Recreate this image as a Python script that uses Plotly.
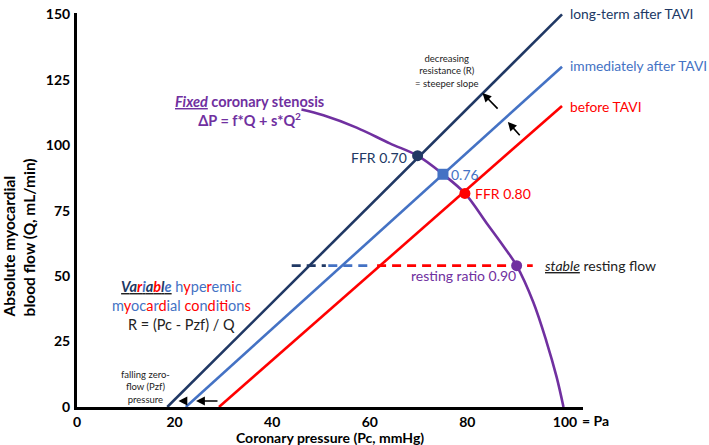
import plotly.graph_objects as go

# colours
NAVY = "#203864"
BLUE = "#4472C4"
RED = "#FF0000"
PURPLE = "#7030A0"
FONT = "Lato"

# pressure-flow lines (Pc, Q), from zero-flow pressure up to the right edge
longterm_pc = [18.5, 99.4]
longterm_q = [0, 150]
immediate_pc = [22.3, 99.4]
immediate_q = [0, 130]
before_pc = [29.1, 99.4]
before_q = [0, 115]

# fixed stenosis curve
stenosis_pc = [46.0, 50.5, 57.3, 64.1, 69.8, 75.0, 79.5, 84.0, 87.4, 90.1, 93.5, 96.2, 98.3, 99.7]
stenosis_q = [113.6, 111.4, 106.7, 100.7, 96.0, 88.9, 81.6, 70.1, 61.4, 54.0, 40.1, 25.1, 11.4, 0]

# FFR points
ffr_pc = [69.8, 75.0, 79.5]
ffr_q = [96.0, 88.9, 81.6]
ffr_labels = ["FFR 0.70", "0.76", "FFR 0.80"]

# resting point
rest_pc = 90.1
rest_q = 54.0
rest_segments = [([44.0, 51.0], NAVY), ([51.5, 60.0], BLUE), ([61.5, 93.4], RED)]

# arrows: (head_x, head_y, tail_x, tail_y)
slope_arrows = [(83.1, 119.9, 86.5, 113.4), (88.3, 108.9, 91.0, 103.2)]
pzf_arrows = [(20.8, 2.3, 22.6, 2.3), (24.4, 2.3, 29.1, 2.3)]

fig = go.Figure()

for xs, ys, c in [(longterm_pc, longterm_q, NAVY), (immediate_pc, immediate_q, BLUE),
                  (before_pc, before_q, RED)]:
    fig.add_trace(go.Scatter(x=xs, y=ys, mode="lines", line=dict(color=c, width=2.6),
                             cliponaxis=False))

for xs, c in rest_segments:
    fig.add_trace(go.Scatter(x=xs, y=[rest_q, rest_q], mode="lines",
                             line=dict(color=c, width=2.6, dash="9px,6px")))

fig.add_trace(go.Scatter(x=stenosis_pc, y=stenosis_q, mode="lines",
                         line=dict(color=PURPLE, width=2.6, shape="spline")))

fig.add_trace(go.Scatter(x=ffr_pc, y=ffr_q, mode="markers",
                         marker=dict(color=[NAVY, BLUE, RED], size=11,
                                     symbol=["circle", "square", "circle"])))
fig.add_trace(go.Scatter(x=[rest_pc], y=[rest_q], mode="markers",
                         marker=dict(color=PURPLE, size=11)))


def ann(text, x, y, color="black", size=14, xanchor="center", **kw):
    fig.add_annotation(text=text, x=x, y=y, xref="x", yref="y", showarrow=False,
                       font=dict(family=FONT, size=size, color=color),
                       xanchor=xanchor, yanchor="middle", **kw)


# line labels
ann("long-term after TAVI", 100.6, 150.2, NAVY, size=13.8, xanchor="left")
ann("immediately after TAVI", 100.6, 130.5, BLUE, size=13.8, xanchor="left")
ann("before TAVI", 100.6, 114.8, RED, size=13.8, xanchor="left")

# point labels
ann(ffr_labels[0], 68.0, 95.2, NAVY, xanchor="right")
ann(ffr_labels[1], 76.2, 88.9, BLUE, xanchor="left")
ann(ffr_labels[2], 81.2, 81.6, RED, xanchor="left")
ann("resting ratio 0.90", 79.2, 50.3, PURPLE)
ann("<u><i>stable</i></u> resting flow", 95.5, 54.2, "#222222", xanchor="left")

ann("decreasing<br>resistance (R)<br>= steeper slope", 75.8, 128.4, "#222222", size=9.5)
ann("falling zero-<br>flow (Pzf)<br>pressure", 14.1, 7.6, "#222222", size=9.5)

ann("<b><u><i>Fixed</i></u> coronary stenosis<br>ΔP = f*Q + s*Q<sup>2</sup></b>",
    35.3, 113.2, PURPLE, size=14.5)


def colored(word, colors):
    return "".join(f"<span style='color:{c}'>{ch}</span>" for ch, c in zip(word, colors))


N, B, R = NAVY, BLUE, RED
line1 = ("<b><i><u>" + colored("Variable", [N, N, R, B, N, R, N, B]) + "</u></i></b> "
         + colored("hyperemic", [B, R, B, B, R, B, B, R, B]))
line2 = (colored("myocardial", [B, R, B, B, R, B, R, B, B, B]) + " "
         + colored("conditions", [R, R, B, R, B, R, B, B, B, R]))
line3 = "R = (Pc - Pzf) / Q"
ann(line1 + "<br>" + line2 + "<br>" + line3, 21.4, 38.9, "#222222", size=14.5)

for hx, hy, tx, ty in slope_arrows + pzf_arrows:
    fig.add_annotation(x=hx, y=hy, ax=tx, ay=ty, xref="x", yref="y", axref="x", ayref="y",
                       showarrow=True, arrowhead=2, arrowsize=1.1, arrowwidth=1.6,
                       arrowcolor="black", text="")

# axis titles
fig.add_annotation(text="<b>Absolute myocardial<br>blood flow (Q, mL/min)</b>",
                   xref="paper", yref="paper", x=-0.115, y=0.43, textangle=-90,
                   align="left", showarrow=False,
                   font=dict(family=FONT, size=15.5, color="black"),
                   xanchor="center", yanchor="middle")
fig.add_annotation(text="<b>Coronary pressure (Pc, mmHg)</b>", xref="paper", yref="paper",
                   x=0.5, y=-0.078, showarrow=False,
                   font=dict(family=FONT, size=14, color="black"),
                   xanchor="center", yanchor="middle")
fig.add_annotation(text="<b>= Pa</b>", xref="x", yref="paper", x=100, y=-0.035,
                   xshift=15, showarrow=False, xanchor="left", yanchor="middle",
                   font=dict(family=FONT, size=14, color="black"))

fig.update_layout(
    width=709, height=445,
    margin=dict(l=77, r=126, t=5, b=38),
    plot_bgcolor="white", paper_bgcolor="white",
    showlegend=False,
    font=dict(family=FONT),
)
fig.update_xaxes(range=[0, 103.7], tickvals=[0, 20, 40, 60, 80, 100],
                 showgrid=False, zeroline=False, showline=True, linecolor="black",
                 linewidth=3, ticks="", ticklabeloverflow="allow",
                 tickfont=dict(family=FONT, size=14, weight="bold", color="black"))
fig.update_yaxes(range=[0, 150.5], tickvals=[0, 25, 50, 75, 100, 125, 150],
                 showgrid=False, zeroline=False, showline=True, linecolor="black",
                 linewidth=3, ticks="", ticklabelstandoff=1, ticklabeloverflow="allow",
                 tickfont=dict(family=FONT, size=14, weight="bold", color="black"))

fig.write_html("out.html", config={"displayModeBar": False},
               post_script="document.body.style.margin='0';")
